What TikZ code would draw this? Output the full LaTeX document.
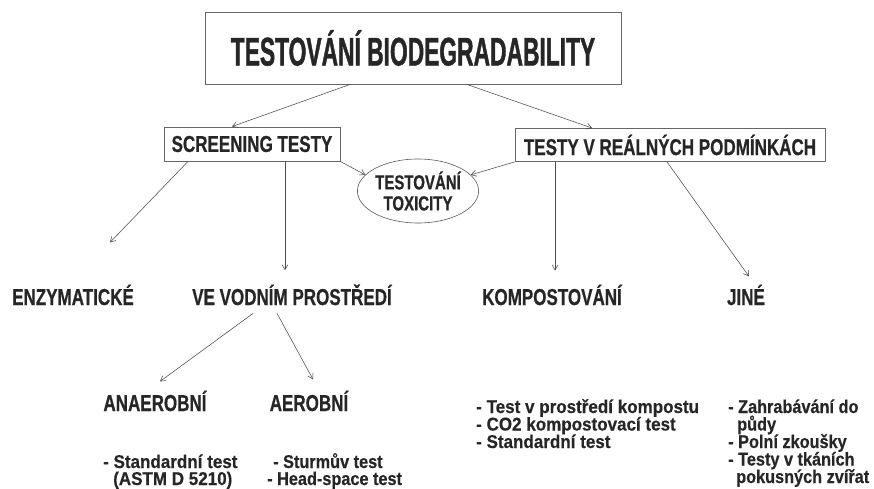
\documentclass[tikz,border=0pt]{standalone}
\usepackage{fontspec}
\setmainfont{Liberation Sans}
\newfontfamily\titlefont[FakeStretch=0.57,FakeBold=1]{Liberation Sans}
\newfontfamily\headfont[FakeStretch=0.74,FakeBold=0.6]{Liberation Sans}
\newfontfamily\listfont[FakeStretch=0.88,FakeBold=0.4]{Liberation Sans}
\newfontfamily\listfontb[FakeStretch=0.92,FakeBold=0.4]{Liberation Sans}
\usetikzlibrary{arrows.meta,shapes.geometric}
\begin{document}
\begin{tikzpicture}[x=1pt,y=-1pt,
  box/.style={draw=black!60, line width=0.9pt, inner sep=0pt},
  head/.style={font=\headfont\bfseries\fontsize{23}{24}\selectfont, inner sep=0pt, text=black!85},
  lst/.style={font=\listfont\bfseries\fontsize{18.5}{19}\selectfont, inner sep=0pt, anchor=base west, text=black!85},
  lstb/.style={lst, font=\listfontb\bfseries\fontsize{18.5}{19}\selectfont},
  arr/.style={draw=black!70, line width=0.55pt, -{Straight Barb[length=5pt,width=6pt]}}]
\useasboundingbox[fill=white] (0,0) rectangle (874,489);

% top
\node[box, minimum width=416pt, minimum height=72pt, text=black!85] (title) at (413,48)
  {\titlefont\bfseries\fontsize{40}{42}\selectfont TESTOVÁNÍ BIODEGRADABILITY};

% level 1
\node[box, head, minimum width=176pt, minimum height=34pt] (scr) at (252,144) {SCREENING TESTY};
\node[box, head, minimum width=310pt, minimum height=33pt] (real) at (670,145) {TESTY V REÁLNÝCH PODMÍNKÁCH};
\node[ellipse, draw=black!65, line width=0.6pt, minimum width=106pt, minimum height=64pt,
      inner sep=0pt, align=center, text=black!85,
      font=\headfont\bfseries\fontsize{20.3}{21}\selectfont] (tox) at (418,191) {TESTOVÁNÍ\\TOXICITY};

% level 2
\node[head, anchor=base] (enz)  at (73,305)  {ENZYMATICKÉ};
\node[head, anchor=base] (voda) at (292,305) {VE VODNÍM PROSTŘEDÍ};
\node[head, anchor=base] (komp) at (552,305) {KOMPOSTOVÁNÍ};
\node[head, anchor=base] (jine) at (746,305) {JINÉ};

% level 3
\node[head, anchor=base] (anaer) at (155,411) {ANAEROBNÍ};
\node[head, anchor=base] (aer)   at (309,411) {AEROBNÍ};

% lists
\node[lstb] (la1) at (103,468) {- Standardní test};
\node[lstb] (la2) at (113,485) {(ASTM D 5210)};
\node[lst] (lb1) at (273,468) {- Sturmův test};
\node[lst] (lb2) at (267,485) {- Head-space test};

\node[lstb] (lc1) at (476,413)   {- Test v prostředí kompostu};
\node[lstb] (lc2) at (476,430.5) {- CO2 kompostovací test};
\node[lstb] (lc3) at (476,448)   {- Standardní test};

\node[lst] (ld1) at (728,413)   {- Zahrabávání do};
\node[lst] (ld2) at (737,430.5) {půdy};
\node[lst] (ld3) at (728,448)   {- Polní zkoušky};
\node[lst] (ld4) at (728,465.5) {- Testy v tkáních};
\node[lst] (ld5) at (736,483)   {pokusných zvířat};

% connectors
\draw[arr] ([xshift=-63pt]title.south) -- ([xshift=-20pt]scr.north);
\draw[arr] ([xshift=54pt]title.south) -- ([xshift=-78pt]real.north);
\draw[arr] (scr.south east) -- (tox.163);
\draw[arr] (real.south west) -- (tox.17);
\draw[arr] ([xshift=-64pt]scr.south) -- ([xshift=37pt,yshift=42pt]enz.north);
\draw[arr] ([xshift=33pt]scr.south) -- ([xshift=-7pt,yshift=14pt]voda.north);
\draw[arr] ([xshift=-39pt,yshift=-8pt]voda.south) -- ([xshift=5pt,yshift=9pt]anaer.north);
\draw[arr] ([xshift=-15pt,yshift=-8pt]voda.south) -- ([xshift=4pt,yshift=11pt]aer.north);
\draw[arr] ([xshift=-115pt]real.south) -- ([xshift=3pt,yshift=14pt]komp.north);
\draw[arr] ([xshift=-3pt]real.south) -- ([xshift=3pt,yshift=8pt]jine.north);
\end{tikzpicture}
\end{document}
